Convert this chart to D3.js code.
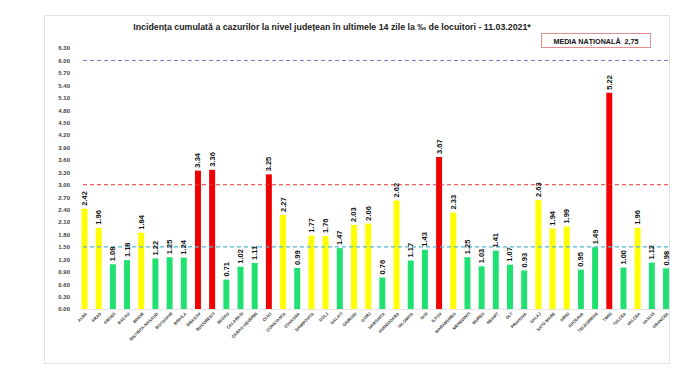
<!DOCTYPE html>
<html><head><meta charset="utf-8">
<script src="https://cdn.jsdelivr.net/npm/d3@7"></script>
<style>body{margin:0;background:#fff;}svg{display:block;font-family:"Liberation Sans",Arial,sans-serif;}</style>
</head><body>
<svg id="c" width="700" height="377"></svg>
<script>
const counties = ["ALBA","ARAD","ARGES","BACAU","BIHOR","BISTRITA-NASAUD","BOTOSANI","BRAILA","BRASOV","BUCURESTI","BUZAU","CALARASI","CARAS-SEVERIN","CLUJ","CONSTANTA","COVASNA","DAMBOVITA","DOLJ","GALATI","GIURGIU","GORJ","HARGHITA","HUNEDOARA","IALOMITA","IASI","ILFOV","MARAMURES","MEHEDINTI","MURES","NEAMT","OLT","PRAHOVA","SALAJ","SATU MARE","SIBIU","SUCEAVA","TELEORMAN","TIMIS","TULCEA","VALCEA","VASLUI","VRANCEA"];
const incidence = [2.42,1.96,1.08,1.18,1.84,1.22,1.25,1.24,3.34,3.36,0.71,1.02,1.11,3.25,2.27,0.99,1.77,1.76,1.47,2.03,2.06,0.76,2.62,1.17,1.43,3.67,2.33,1.25,1.03,1.41,1.07,0.93,2.63,1.94,1.99,0.95,1.49,5.22,1.00,1.96,1.12,0.98];
const yTicks = d3.range(0, 22).map(i => +(i*0.3).toFixed(2));
const thresholds = [6.0, 3.0, 1.5];
const thresholdColors = ["#8a70d0", "#e8303a", "#4fb8d8"];
const titleText = "Incidența cumulată a cazurilor la nivel județean în ultimele 14 zile la ‰ de locuitori - 11.03.2021*";
const mediaText = "MEDIA NAȚIONALĂ  2,75";

const svg = d3.select("#c");
svg.append("rect").attr("x",44.5).attr("y",15.5).attr("width",625).attr("height",348)
  .attr("fill","#fff").attr("stroke","#e3e3e3");

const x = d3.scaleBand().domain(counties).range([77.4, 673.1]).paddingInner(0.58).paddingOuter(0.29);
const y = d3.scaleLinear().domain([0, 6.3]).range([309, 48]);

function color(v){ return v > 3 ? "#f00000" : (v >= 1.5 ? "#ffff00" : "#1fe070"); }

// title
svg.append("text").attr("x",332).attr("y",30).attr("text-anchor","middle")
  .attr("font-size",8.8).attr("font-weight","bold").attr("fill","#222").text(titleText);

// media box
svg.append("rect").attr("x",541.5).attr("y",33.5).attr("width",109).attr("height",14)
  .attr("fill","#fff").attr("stroke","#e09090");
svg.append("text").attr("x",596).attr("y",43.5).attr("text-anchor","middle")
  .attr("font-size",7.2).attr("font-weight","bold").attr("fill","#111").attr("xml:space","preserve").text(mediaText);

// y axis
const yAxis = d3.axisLeft(y).tickValues(yTicks).tickFormat(d3.format(".2f")).tickSize(0).tickPadding(0);
const gy = svg.append("g").attr("transform","translate(70,0)").call(yAxis);
gy.select(".domain").remove();
gy.selectAll("text").attr("font-size",6).attr("font-weight","bold").attr("fill","#444").attr("font-family","Liberation Sans, Arial, sans-serif");

// baseline
svg.append("line").attr("x1",80).attr("x2",670).attr("y1",y(0)+0.5).attr("y2",y(0)+0.5).attr("stroke","#e6e6e6");

// bars
svg.append("g").selectAll("rect").data(counties).join("rect")
  .attr("x", d => x(d)).attr("width", x.bandwidth())
  .attr("y", (d,i) => y(incidence[i])).attr("height", (d,i) => y(0) - y(incidence[i]))
  .attr("fill", (d,i) => color(incidence[i]));

// threshold lines
svg.append("g").selectAll("line").data(thresholds).join("line")
  .attr("x1",83).attr("x2",668).attr("y1", d => y(d)).attr("y2", d => y(d))
  .attr("stroke", (d,i) => thresholdColors[i]).attr("stroke-width",1.1).attr("stroke-dasharray","4,3");

// value labels
svg.append("g").selectAll("text").data(counties).join("text")
  .attr("transform", (d,i) => `translate(${x(d)+x.bandwidth()/2+2.5},${y(incidence[i])-3}) rotate(-90)`)
  .attr("font-size",7.5).attr("font-weight","bold").attr("fill","#111")
  .text((d,i) => incidence[i].toFixed(2));

// x labels
const xAxis = d3.axisBottom(x).tickSize(0).tickPadding(0);
const gx = svg.append("g").attr("transform",`translate(0,${y(0)})`).call(xAxis);
gx.select(".domain").remove();
gx.selectAll("text").attr("font-size",4.2).attr("font-weight","bold").attr("fill","#333")
  .attr("font-family","Liberation Sans, Arial, sans-serif")
  .attr("text-anchor","end").attr("dy",0)
  .attr("transform","translate(3,5) rotate(-45)");
</script>
</body></html>
